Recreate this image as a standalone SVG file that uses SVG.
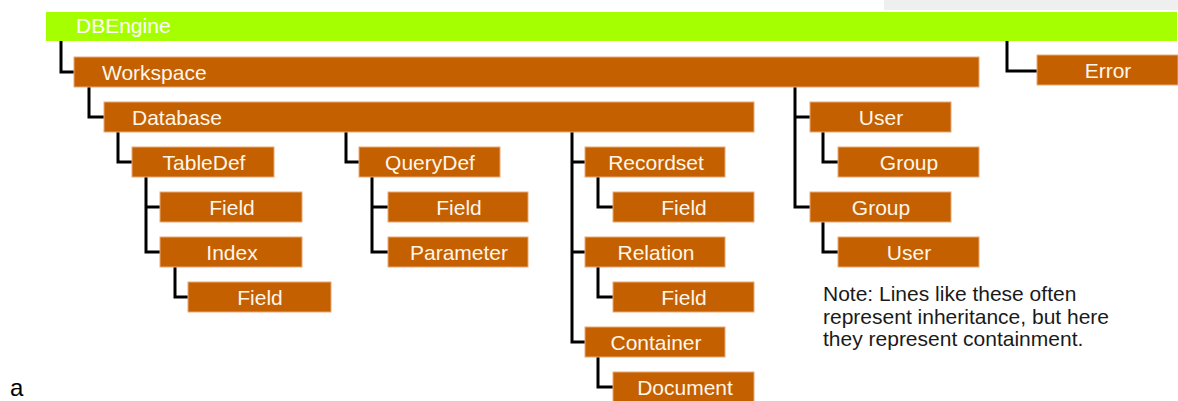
<svg xmlns="http://www.w3.org/2000/svg" width="1178" height="401" viewBox="0 0 1178 401">
<style>
.bar{fill:#c46000;stroke:#e9a878;stroke-width:1}
.lbl{font-family:"Liberation Sans",Arial,sans-serif;font-size:21px;fill:#fff6ea}
.c{text-anchor:middle}
.ln{fill:none;stroke:#000;stroke-width:3}
.note{font-family:"Liberation Sans",Arial,sans-serif;font-size:21px;fill:#1a1a1a}
</style>
<rect x="0" y="0" width="1178" height="401" fill="#fff"/>
<rect x="884" y="0" width="294" height="10" fill="#efefef"/>
<g id="connectors">
<path class="ln" d="M61,41V72H74"/>
<path class="ln" d="M1007,41V71H1037"/>
<path class="ln" d="M89,87V117H104"/>
<path class="ln" d="M795,87V207H810M795,117H810"/>
<path class="ln" d="M118,132V162H132"/>
<path class="ln" d="M346,132V162H359"/>
<path class="ln" d="M572,132V342H585M572,162H585M572,252H585"/>
<path class="ln" d="M823,132V162H838"/>
<path class="ln" d="M146,177V252H160M146,207H160"/>
<path class="ln" d="M372,177V252H388M372,207H388"/>
<path class="ln" d="M598,177V207H613"/>
<path class="ln" d="M823,222V252H838"/>
<path class="ln" d="M175,267V297H188"/>
<path class="ln" d="M598,267V297H613"/>
<path class="ln" d="M598,357V387H613"/>
</g>
<g id="dbengine"><rect x="46" y="12" width="1131" height="29" fill="#a6ff00"/><text class="lbl" x="76" y="33" style="fill:#fff">DBEngine</text></g>
<g id="workspace"><rect class="bar" x="74" y="57" width="905" height="30"/><text class="lbl" x="102" y="80">Workspace</text></g>
<g id="error"><rect class="bar" x="1037" y="55" width="141" height="30"/><text class="lbl c" x="1108" y="78">Error</text></g>
<g id="database"><rect class="bar" x="104" y="102" width="650" height="30"/><text class="lbl" x="132" y="125">Database</text></g>
<g id="user1"><rect class="bar" x="810" y="102" width="141" height="30"/><text class="lbl c" x="881" y="125">User</text></g>
<g id="tabledef"><rect class="bar" x="132" y="147" width="142" height="30"/><text class="lbl c" x="204" y="170">TableDef</text></g>
<g id="querydef"><rect class="bar" x="359" y="147" width="141" height="30"/><text class="lbl c" x="430" y="170">QueryDef</text></g>
<g id="recordset"><rect class="bar" x="585" y="147" width="140" height="30"/><text class="lbl c" x="656" y="170">Recordset</text></g>
<g id="group1"><rect class="bar" x="838" y="147" width="141" height="30"/><text class="lbl c" x="909" y="170">Group</text></g>
<g id="field-tabledef"><rect class="bar" x="160" y="192" width="142" height="30"/><text class="lbl c" x="232" y="215">Field</text></g>
<g id="field-querydef"><rect class="bar" x="388" y="192" width="140" height="30"/><text class="lbl c" x="459" y="215">Field</text></g>
<g id="field-recordset"><rect class="bar" x="613" y="192" width="141" height="30"/><text class="lbl c" x="684" y="215">Field</text></g>
<g id="group2"><rect class="bar" x="810" y="192" width="141" height="30"/><text class="lbl c" x="881" y="215">Group</text></g>
<g id="index"><rect class="bar" x="160" y="237" width="142" height="30"/><text class="lbl c" x="232" y="260">Index</text></g>
<g id="parameter"><rect class="bar" x="388" y="237" width="140" height="30"/><text class="lbl c" x="459" y="260">Parameter</text></g>
<g id="relation"><rect class="bar" x="585" y="237" width="140" height="30"/><text class="lbl c" x="656" y="260">Relation</text></g>
<g id="user2"><rect class="bar" x="838" y="237" width="141" height="30"/><text class="lbl c" x="909" y="260">User</text></g>
<g id="field-index"><rect class="bar" x="188" y="282" width="143" height="30"/><text class="lbl c" x="260" y="305">Field</text></g>
<g id="field-relation"><rect class="bar" x="613" y="282" width="141" height="30"/><text class="lbl c" x="684" y="305">Field</text></g>
<g id="container"><rect class="bar" x="585" y="327" width="140" height="30"/><text class="lbl c" x="656" y="350">Container</text></g>
<g id="document"><rect class="bar" x="613" y="372" width="141" height="30"/><text class="lbl c" x="685" y="395">Document</text></g>
<g id="note"><text class="note" x="823" y="301">Note: Lines like these often</text><text class="note" x="823" y="323.5">represent inheritance, but here</text><text class="note" x="823" y="346">they represent containment.</text></g>
<text x="10" y="396" style="font-family:'Liberation Sans',Arial,sans-serif;font-size:24px;fill:#000">a</text>
</svg>
